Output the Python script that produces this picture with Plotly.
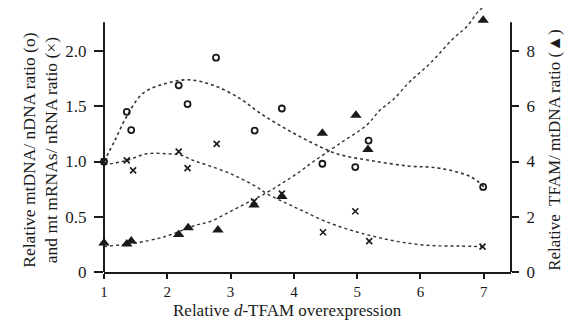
import plotly.graph_objects as go

# ---- data ----
circ_x = [1.0, 1.36, 1.43, 2.18, 2.32, 2.77, 3.38, 3.81, 4.45, 4.97, 5.18, 6.99]
circ_y = [1.0, 1.45, 1.285, 1.69, 1.52, 1.94, 1.28, 1.48, 0.98, 0.95, 1.19, 0.77]

cross_x = [1.0, 1.36, 1.46, 2.18, 2.32, 2.78, 3.37, 3.81, 4.46, 4.97, 5.19, 6.98]
cross_y = [1.0, 1.01, 0.92, 1.09, 0.94, 1.16, 0.64, 0.71, 0.36, 0.55, 0.28, 0.23]

tri_x = [1.0, 1.36, 1.43, 2.18, 2.33, 2.8, 3.37, 3.81, 4.45, 4.98, 5.17, 6.99]
tri_y = [1.05, 1.01, 1.12, 1.36, 1.6, 1.52, 2.43, 2.73, 5.02, 5.68, 4.44, 9.12]

circ_fit_x = [1.0, 1.17, 1.36, 1.62, 2.0, 2.33, 2.73, 3.15, 3.46, 3.83, 4.25, 4.68, 5.2, 5.8, 6.3, 6.8, 7.0]
circ_fit_y = [1.0, 1.19, 1.41, 1.62, 1.71, 1.74, 1.69, 1.57, 1.44, 1.31, 1.18, 1.07, 1.01, 0.96, 0.94, 0.86, 0.77]

cross_fit_x = [1.0, 1.36, 1.67, 2.0, 2.2, 2.41, 2.67, 3.04, 3.41, 3.57, 3.89, 4.15, 4.49, 4.89, 5.28, 5.7, 6.15, 6.6, 7.0]
cross_fit_y = [0.97, 1.01, 1.07, 1.07, 1.06, 1.01, 0.96, 0.88, 0.77, 0.71, 0.62, 0.55, 0.46, 0.38, 0.32, 0.27, 0.24, 0.235, 0.23]

tri_fit_x = [1.0, 1.52, 1.86, 2.04, 2.46, 2.67, 2.96, 3.25, 3.57, 3.81, 4.04, 4.31, 4.73, 5.15, 5.36, 5.57, 5.83, 6.15, 6.52, 6.73, 6.93, 7.02]
tri_fit_y = [0.92, 1.06, 1.22, 1.34, 1.70, 1.82, 2.15, 2.49, 2.87, 3.21, 3.55, 4.0, 4.66, 5.32, 5.86, 6.25, 6.89, 7.55, 8.46, 8.88, 9.48, 9.6]

x_ticks = [1, 2, 3, 4, 5, 6, 7]
left_ticks = [0, 0.5, 1.0, 1.5, 2.0]
left_tick_text = ["0", "0.5", "1.0", "1.5", "2.0"]
right_ticks = [0, 2, 4, 6, 8]

FONT = "Liberation Serif"
INK = "#1a1a1a"
DOT = "#333333"

fig = go.Figure()

fig.add_trace(go.Scatter(x=circ_fit_x, y=circ_fit_y, mode="lines", line=dict(color=DOT, width=1.6, dash="dot", shape="spline"), showlegend=False))
fig.add_trace(go.Scatter(x=cross_fit_x, y=cross_fit_y, mode="lines", line=dict(color=DOT, width=1.4, dash="dot", shape="spline"), showlegend=False))
fig.add_trace(go.Scatter(x=tri_fit_x, y=tri_fit_y, mode="lines", yaxis="y2", line=dict(color=DOT, width=1.4, dash="dot", shape="spline"), showlegend=False))

fig.add_trace(go.Scatter(x=circ_x, y=circ_y, mode="markers", cliponaxis=False,
                         marker=dict(symbol="circle-open", size=6, color=INK, line=dict(width=1.8)), showlegend=False))
fig.add_trace(go.Scatter(x=cross_x, y=cross_y, mode="markers", cliponaxis=False,
                         marker=dict(symbol="x-thin-open", size=6, color=INK, line=dict(width=1.6, color=INK)), showlegend=False))
fig.add_trace(go.Scatter(x=tri_x, y=tri_y, mode="markers", yaxis="y2", cliponaxis=False,
                         marker=dict(symbol="triangle-up", size=10, color=INK), showlegend=False))

YMAX = 2.39
AXTOP = 2.26

fig.update_layout(
    width=566, height=315,
    margin=dict(l=96, r=63, t=0, b=51),
    paper_bgcolor="white", plot_bgcolor="white",
    font=dict(family=FONT, size=17, color=INK),
    xaxis=dict(range=[1, 7.43], tickvals=x_ticks, ticks="outside", ticklen=5, tickwidth=1.5,
               tickcolor=INK, showline=True, linecolor=INK, linewidth=2, showgrid=False, zeroline=False,
               tickfont=dict(size=15, family=FONT), ticklabelstandoff=0),
    yaxis=dict(range=[0, YMAX], tickvals=left_ticks, ticktext=left_tick_text, ticks="outside", ticklen=9,
               tickwidth=1.5, tickcolor=INK, showline=False, showgrid=False, zeroline=False,
               tickfont=dict(size=17, family=FONT), ticklabelstandoff=4),
    yaxis2=dict(range=[0, YMAX * 4], tickvals=right_ticks, ticks="outside", ticklen=7, tickwidth=1.5,
                tickcolor=INK, overlaying="y", side="right", showline=False, showgrid=False, zeroline=False,
                tickfont=dict(size=17, family=FONT), ticklabelstandoff=4),
    shapes=[
        dict(type="line", xref="paper", yref="y", x0=0, x1=0, y0=0, y1=AXTOP, line=dict(color=INK, width=2)),
        dict(type="line", xref="paper", yref="y", x0=1, x1=1, y0=0, y1=AXTOP, line=dict(color=INK, width=2)),
    ],
    annotations=[
        dict(text="Relative <i>d</i>-TFAM overexpression", xref="paper", yref="paper", x=0.452, y=-0.146,
             xanchor="center", yanchor="middle", showarrow=False, font=dict(size=17, family=FONT)),
        dict(text="Relative mtDNA/ nDNA ratio (o)<br>and mt mRNAs/ nRNA ratio (×)", xref="paper", yref="paper",
             x=-0.158, y=0.462, xanchor="center", yanchor="middle", textangle=-90, showarrow=False,
             font=dict(size=17.5, family=FONT)),
        dict(text="Relative  TFAM/ mtDNA ratio (▲)", xref="paper", yref="paper",
             x=1.105, y=0.462, xanchor="center", yanchor="middle", textangle=-90, showarrow=False,
             font=dict(size=17, family=FONT)),
    ],
)

fig.write_html("out.html")
